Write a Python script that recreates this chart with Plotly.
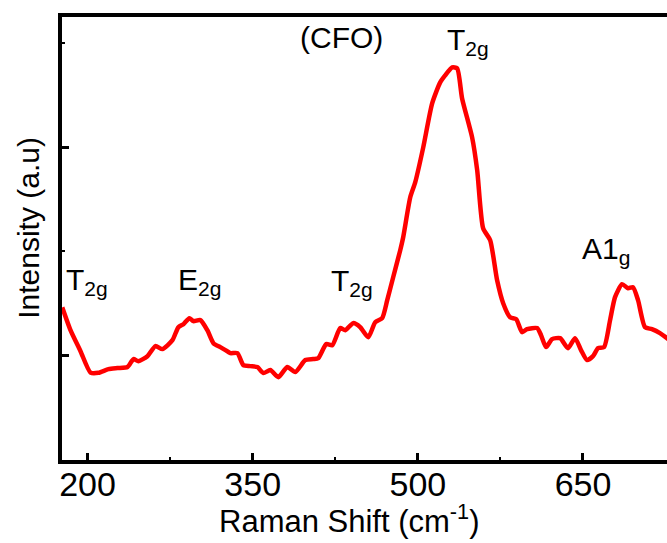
import plotly.graph_objects as go

# Raman spectrum of CFO
raman_shift = [177.0, 184.5, 193.6, 202.7, 209.9, 219.0, 227.2, 236.3, 241.7, 246.2,
               254.4, 261.7, 268.0, 277.1, 282.5, 287.1, 292.5, 296.1, 302.5, 308.8,
               314.3, 320.6, 325.2, 329.7, 336.1, 341.5, 347.9, 354.2, 359.7, 366.0,
               373.3, 381.4, 388.7, 397.8, 405.0, 409.6, 416.8, 422.3, 429.5, 434.1,
               441.3, 447.7, 455.0, 461.3, 467.6, 472.2, 477.6, 484.0, 486.7, 493.1,
               497.6, 504.9, 513.0, 520.3, 524.8, 531.2, 535.7, 540.2, 549.3, 553.9,
               559.3, 565.7, 572.0, 577.5, 583.8, 589.3, 594.7, 599.2, 608.3, 611.9,
               616.5, 621.9, 629.2, 636.4, 642.8, 648.2, 653.7, 659.1, 663.7, 669.1,
               674.6, 679.1, 685.5, 690.9, 695.4, 700.0, 706.3, 712.6, 719.9, 726.3, 730.0]
intensity = [146.0, 124.0, 103.8, 83.2, 83.0, 86.5, 87.5, 88.5, 96.2, 94.2,
             99.0, 108.7, 105.8, 114.4, 126.9, 129.8, 135.6, 132.7, 133.7, 124.0,
             111.5, 107.7, 104.8, 101.9, 101.9, 90.4, 89.4, 88.5, 82.7, 85.6,
             78.8, 88.5, 83.7, 95.2, 96.2, 97.1, 110.6, 109.6, 126.0, 124.0,
             130.8, 126.9, 117.3, 131.7, 135.6, 152.9, 175.0, 201.0, 213.5, 251.9,
             266.3, 300.0, 342.3, 362.5, 369.2, 376.9, 376.0, 347.1, 309.6, 277.9,
             222.1, 210.6, 172.1, 150.0, 136.5, 134.6, 122.1, 125.0, 126.0, 119.2,
             107.7, 115.4, 116.3, 106.7, 116.3, 104.8, 95.2, 99.0, 106.7, 107.7,
             133.7, 155.8, 168.3, 164.4, 165.4, 152.9, 126.9, 125.0, 121.2, 116.3, 113.0]

x_ticks = [200, 350, 500, 650]

peak_labels = ["T<sub>2g</sub>", "E<sub>2g</sub>", "T<sub>2g</sub>", "T<sub>2g</sub>", "A1<sub>g</sub>"]
peak_label_x = [178.8, 280.0, 419.6, 524.8, 647.3]
peak_label_y = [171.0, 171.0, 170.0, 402.0, 201.0]

FONT = "Liberation Sans, Arial, sans-serif"

fig = go.Figure()
fig.add_trace(go.Scatter(
    x=raman_shift, y=intensity, mode="lines",
    line=dict(color="#ff0000", width=4.5, shape="spline", smoothing=0.6),
    showlegend=False, hoverinfo="skip",
))

W, H = 667, 543
L, R, T, B = 61.5, 0, 14.5, 83
PH = H - T - B
PW = W - L - R

annotations = []
for txt, xx, yy in zip(peak_labels, peak_label_x, peak_label_y):
    annotations.append(dict(x=xx, y=yy, xref="x", yref="y", text=txt, showarrow=False,
                            xanchor="left", yanchor="middle",
                            font=dict(family=FONT, size=30, color="black")))
annotations.append(dict(x=391.5, y=406.0, xref="x", yref="y", text="(CFO)", showarrow=False,
                        xanchor="left", yanchor="middle",
                        font=dict(family=FONT, size=30, color="black")))
# axis titles (placed by pixel position, converted to paper coordinates)
annotations.append(dict(x=(349 - L) / PW, y=1 - (519 - T) / PH, xref="paper", yref="paper",
                        text="Raman Shift (cm<sup>-1</sup>)",
                        showarrow=False, xanchor="center", yanchor="middle",
                        font=dict(family=FONT, size=31, color="black")))
annotations.append(dict(x=(28 - L) / PW, y=1 - (228 - T) / PH, xref="paper", yref="paper",
                        text="Intensity (a.u)",
                        showarrow=False, textangle=-90, xanchor="center", yanchor="middle",
                        font=dict(family=FONT, size=30, color="black")))

fig.update_layout(
    width=W, height=H,
    margin=dict(l=L, r=R, t=T, b=B, pad=0),
    paper_bgcolor="white", plot_bgcolor="white",
    annotations=annotations,
    shapes=[dict(type="line", xref="paper", yref="paper", x0=-0.0066, x1=1, y0=1, y1=1,
                 line=dict(color="black", width=4))],
    xaxis=dict(range=[176.8, 726.3], tickmode="array", tickvals=x_ticks,
               ticktext=[str(v) for v in x_ticks],
               ticks="inside", ticklen=7, tickwidth=3, tickcolor="black",
               showline=True, linecolor="black", linewidth=4,
               showgrid=False, zeroline=False,
               tickfont=dict(family=FONT, size=34, color="black"),
               minor=dict(tickvals=[275, 425, 575], ticks="inside", ticklen=3, tickwidth=2,
                          tickcolor="black", showgrid=False)),
    yaxis=dict(range=[-0.96, 427.4], tick0=100, dtick=200,
               ticks="inside", ticklen=7, tickwidth=3, tickcolor="black",
               showticklabels=False,
               showline=True, linecolor="black", linewidth=4,
               showgrid=False, zeroline=False,
               minor=dict(tick0=0, dtick=100, ticks="inside", ticklen=3, tickwidth=2,
                          tickcolor="black", showgrid=False)),
)
try:
    fig.update_xaxes(ticklabelstandoff=-9)
except Exception:
    pass

fig.write_html("out.html", config={"displayModeBar": False},
               post_script="document.body.style.margin='0';")
